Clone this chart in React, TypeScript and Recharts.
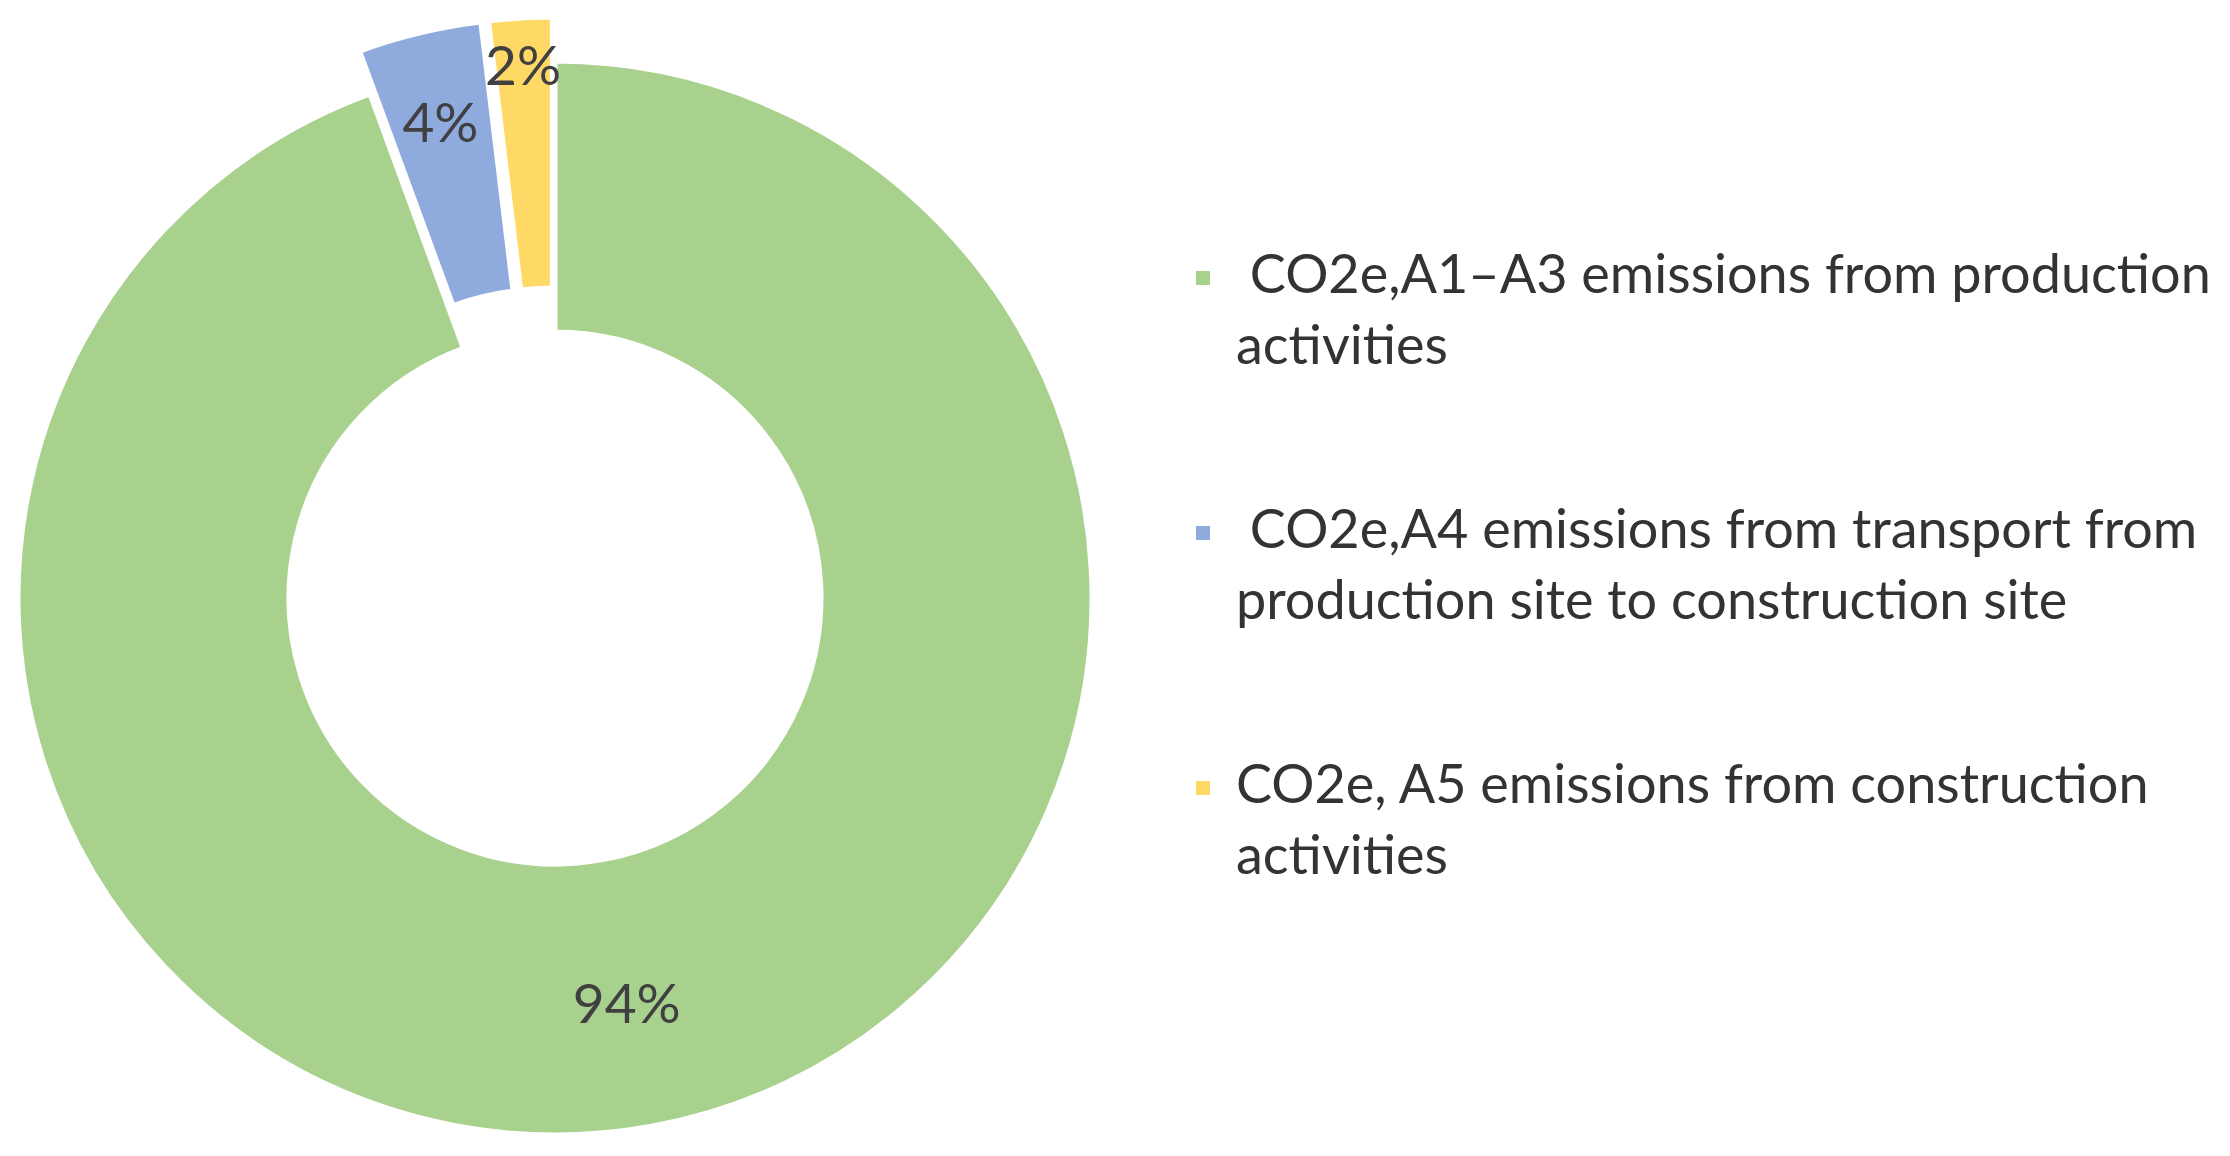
import React from 'react';
import { PieChart, Pie, Cell, Legend } from 'recharts';

// ---- data ----
const CATEGORIES = [
  ' CO2e,A1–A3 emissions from production\nactivities',
  ' CO2e,A4 emissions from transport from\nproduction site to construction site',
  'CO2e, A5 emissions from construction\nactivities',
];
const SHARES = [94.4, 3.7, 1.9];
const COLORS = ['#A9D18E', '#8FAADC', '#FFD966'];

const DATA = CATEGORIES.map((name, i) => ({ name, value: SHARES[i] }));

// ---- layout / style ----
const W = 2230;
const H = 1156;
const CX = 555;
const CY = 598;
const INNER = 266;
const OUTER = 537;
const EXPLODE = [0, 44, 44];
const LABEL_R = [410, 447, 491];
const FONT = 'Lato, "Open Sans", sans-serif';
const RAD = Math.PI / 180;

const TOTAL = SHARES.reduce((a, b) => a + b, 0);
const MID_ANGLES = SHARES.map((v, i) => {
  const before = SHARES.slice(0, i).reduce((a, b) => a + b, 0);
  return 90 - ((before + v / 2) / TOTAL) * 360;
});
const OFFSETS = MID_ANGLES.map((m, i) => ({
  dx: EXPLODE[i] * Math.cos(m * RAD),
  dy: -EXPLODE[i] * Math.sin(m * RAD),
}));

const makeLabel = (target: number) => (p: any) => {
  if (p.index !== target) return null;
  const r = LABEL_R[target];
  const a = -p.midAngle * RAD;
  const x = p.cx + r * Math.cos(a);
  const y = p.cy + r * Math.sin(a);
  return (
    <text
      key={`lbl-${target}`}
      x={x}
      y={y}
      textAnchor="middle"
      dominantBaseline="central"
      fill="#404040"
      fontFamily={FONT}
      fontSize={55}
    >
      {`${Math.round(p.percent * 100)}%`}
    </text>
  );
};

const renderLegend = (props: any) => {
  const seen = new Set<string>();
  const payload = (props.payload || []).filter((p: any) => {
    if (!CATEGORIES.includes(p.value) || seen.has(p.value)) return false;
    seen.add(p.value);
    return true;
  });
  const names: string[] = payload.length ? payload.map((p: any) => p.value) : CATEGORIES;
  return (
    <div style={{ fontFamily: FONT, fontSize: 54, lineHeight: '71px', color: '#333333' }}>
      {names.map((name, i) => {
        const idx = CATEGORIES.indexOf(name);
        return (
          <div
            key={name}
            style={{
              position: 'relative',
              paddingLeft: 40,
              marginBottom: i < names.length - 1 ? 113 : 0,
              whiteSpace: 'pre',
            }}
          >
            <span
              style={{
                position: 'absolute',
                left: 0,
                top: 34,
                width: 14,
                height: 14,
                background: COLORS[idx],
              }}
            />
            {name}
          </div>
        );
      })}
    </div>
  );
};

export default function App() {
  return (
    <div style={{ position: 'absolute', left: 0, top: 0, width: W, height: H, background: '#ffffff' }}>
      <PieChart width={W} height={H} margin={{ top: 0, right: 0, bottom: 0, left: 0 }}>
        {COLORS.map((color, s) => (
          <Pie
            key={`pie-${s}`}
            data={DATA}
            dataKey="value"
            nameKey="name"
            cx={CX + OFFSETS[s].dx}
            cy={CY + OFFSETS[s].dy}
            innerRadius={INNER}
            outerRadius={OUTER}
            startAngle={90}
            endAngle={-270}
            isAnimationActive={false}
            label={makeLabel(s)}
            labelLine={false}
            legendType={s === 0 ? 'square' : 'none'}
          >
            {DATA.map((d, i) => (
              <Cell
                key={`c-${s}-${i}`}
                fill={i === s ? color : 'transparent'}
                stroke={i === s ? '#ffffff' : 'none'}
                strokeWidth={i === s ? 5 : 0}
              />
            ))}
          </Pie>
        ))}
        <Legend
          layout="vertical"
          align="right"
          verticalAlign="middle"
          content={renderLegend}
          wrapperStyle={{ left: 1196, top: 237, width: 1034 }}
        />
      </PieChart>
    </div>
  );
}
